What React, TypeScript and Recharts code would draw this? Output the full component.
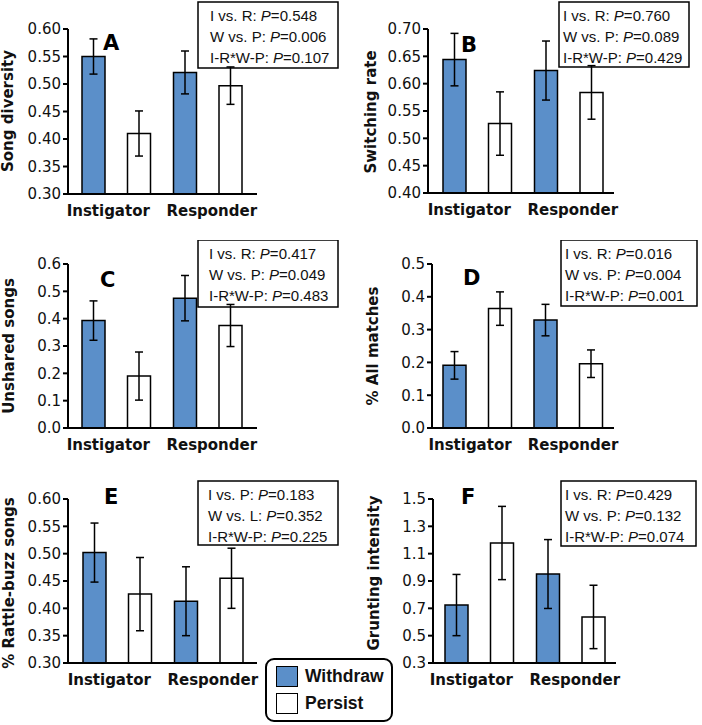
import { Bar, BarChart, ErrorBar, Legend, XAxis, YAxis } from 'recharts';

const groups = ['Instigator', 'Responder'];

// A – song diversity
const diversityWithdraw = [0.55, 0.521];
const diversityWithdrawErr = [0.032, 0.039];
const diversityPersist = [0.41, 0.497];
const diversityPersistErr = [0.041, 0.034];

// B – switching rate
const switchingWithdraw = [0.644, 0.624];
const switchingWithdrawErr = [0.048, 0.054];
const switchingPersist = [0.527, 0.584];
const switchingPersistErr = [0.058, 0.049];

// C – unshared songs
const unsharedWithdraw = [0.393, 0.475];
const unsharedWithdrawErr = [0.072, 0.083];
const unsharedPersist = [0.19, 0.375];
const unsharedPersistErr = [0.088, 0.077];

// D – % all matches
const matchesWithdraw = [0.191, 0.329];
const matchesWithdrawErr = [0.042, 0.048];
const matchesPersist = [0.364, 0.196];
const matchesPersistErr = [0.051, 0.042];

// E – % rattle-buzz songs
const rattleWithdraw = [0.502, 0.413];
const rattleWithdrawErr = [0.054, 0.063];
const rattlePersist = [0.426, 0.455];
const rattlePersistErr = [0.067, 0.055];

// F – grunting intensity
const gruntWithdraw = [0.724, 0.951];
const gruntWithdrawErr = [0.224, 0.252];
const gruntPersist = [1.178, 0.637];
const gruntPersistErr = [0.268, 0.232];

const ticks2 = [0.3, 0.35, 0.4, 0.45, 0.5, 0.55, 0.6];
const ticksB = [0.4, 0.45, 0.5, 0.55, 0.6, 0.65, 0.7];
const ticksC = [0, 0.1, 0.2, 0.3, 0.4, 0.5, 0.6];
const ticksD = [0, 0.1, 0.2, 0.3, 0.4, 0.5];
const ticksF = [0.3, 0.5, 0.7, 0.9, 1.1, 1.3, 1.5];

const statsA = [['I vs. R: ', '0.548'], ['W vs. P: ', '0.006'], ['I-R*W-P: ', '0.107']];
const statsB = [['I vs. R: ', '0.760'], ['W vs. P: ', '0.089'], ['I-R*W-P: ', '0.429']];
const statsC = [['I vs. R: ', '0.417'], ['W vs. P: ', '0.049'], ['I-R*W-P: ', '0.483']];
const statsD = [['I vs. R: ', '0.016'], ['W vs. P: ', '0.004'], ['I-R*W-P: ', '0.001']];
const statsE = [['I vs. P: ', '0.183'], ['W vs. L: ', '0.352'], ['I-R*W-P: ', '0.225']];
const statsF = [['I vs. R: ', '0.429'], ['W vs. P: ', '0.132'], ['I-R*W-P: ', '0.074']];

const BLUE = '#5b8fc9';
const SANS = '"DejaVu Sans", sans-serif';
const ARIAL = '"Liberation Sans", Arial, sans-serif';

function rows(w: number[], we: number[], p: number[], pe: number[]) {
  return groups.map((g, i) => ({
    group: g,
    withdraw: w[i],
    withdrawErr: we[i],
    persist: p[i],
    persistErr: pe[i],
  }));
}

function CategoryTick(props: any) {
  const { x, y, payload, index } = props;
  const dx = index === 0 ? -7.5 : 4.5;
  return (
    <text
      x={x + dx}
      y={y}
      dy="0.71em"
      textAnchor="middle"
      fontFamily={SANS}
      fontWeight="bold"
      fontSize={15}
      fill="#111"
    >
      {payload.value}
    </text>
  );
}

function LegendBox() {
  const item = (fill: string, label: string, top: number) => (
    <div style={{ position: 'absolute', left: 9, top, display: 'flex', alignItems: 'center' }}>
      <div style={{ width: 20, height: 19, background: fill, border: '1.5px solid #000' }} />
      <span style={{ marginLeft: 7, fontFamily: ARIAL, fontWeight: 'bold', fontSize: 17.5, color: '#111' }}>
        {label}
      </span>
    </div>
  );
  return (
    <div
      style={{
        position: 'relative',
        width: 124,
        height: 60,
        border: '2px solid #000',
        borderRadius: 9,
        background: '#fff',
      }}
    >
      {item(BLUE, 'Withdraw', 6)}
      {item('#fff', 'Persist', 33)}
    </div>
  );
}

interface PanelProps {
  left: number;
  top: number;
  height: number;
  plot: { left: number; right: number; top: number; bottom: number };
  pad: { left: number; right: number };
  domain: [number, number];
  ticks: number[];
  decimals: number;
  yLabel: string;
  yLabelX: number;
  yLabelY: number;
  letter: string;
  letterX: number;
  letterY: number;
  box: { x: number; y: number; w: number; h: number; tx: number };
  stats: string[][];
  data: any[];
  legend?: boolean;
}

function Panel(p: PanelProps) {
  const width = 351;
  return (
    <div style={{ position: 'absolute', left: p.left, top: p.top }}>
      <BarChart
        width={width}
        height={p.height}
        data={p.data}
        margin={{ top: p.plot.top, right: width - p.plot.right, bottom: 0, left: 0 }}
        barSize={23}
        barGap={22.5}
      >
        <XAxis
          dataKey="group"
          height={p.height - p.plot.bottom}
          padding={p.pad}
          axisLine={{ stroke: '#000', strokeWidth: 2 }}
          tickLine={false}
          tickSize={0}
          tickMargin={11}
          tick={<CategoryTick />}
          interval={0}
        />
        <YAxis
          type="number"
          width={p.plot.left}
          domain={p.domain}
          ticks={p.ticks}
          interval={0}
          tickFormatter={(v: number) => v.toFixed(p.decimals)}
          axisLine={{ stroke: '#000', strokeWidth: 2 }}
          tickLine={{ stroke: '#000', strokeWidth: 2 }}
          tickSize={5}
          tickMargin={2}
          tick={{ fontFamily: SANS, fontSize: 15, fill: '#111' }}
        />
        <Bar dataKey="withdraw" name="Withdraw" fill={BLUE} stroke="#000" strokeWidth={1.5} isAnimationActive={false}>
          <ErrorBar dataKey="withdrawErr" width={4} stroke="#000" strokeWidth={1.5} />
        </Bar>
        <Bar dataKey="persist" name="Persist" fill="#fff" stroke="#000" strokeWidth={1.5} isAnimationActive={false}>
          <ErrorBar dataKey="persistErr" width={4} stroke="#000" strokeWidth={1.5} />
        </Bar>
        {p.legend && (
          <Legend
            layout="horizontal"
            verticalAlign="middle"
            align="center"
            content={() => <LegendBox />}
            wrapperStyle={{ position: 'absolute', left: 265, top: 178, width: 130, height: 64 }}
          />
        )}
        <text
          transform={`translate(${p.yLabelX},${p.yLabelY}) rotate(-90)`}
          textAnchor="middle"
          fontFamily={SANS}
          fontWeight="bold"
          fontSize={15}
          fill="#111"
        >
          {p.yLabel}
        </text>
        <text x={p.letterX} y={p.letterY} fontFamily={SANS} fontWeight="bold" fontSize={21} fill="#000">
          {p.letter}
        </text>
        <g>
          <rect x={p.box.x} y={p.box.y} width={p.box.w} height={p.box.h} fill="#fff" stroke="#000" strokeWidth={1.5} />
          {p.stats.map((s, i) => (
            <text
              key={i}
              x={p.box.tx}
              y={p.box.y + 19 + i * 21}
              fontFamily={ARIAL}
              fontSize={15}
              fill="#111"
            >
              {s[0]}
              <tspan fontStyle="italic">P</tspan>={s[1]}
            </text>
          ))}
        </g>
      </BarChart>
    </div>
  );
}

export default function App() {
  return (
    <div style={{ position: 'absolute', left: 0, top: 0, width: 702, height: 725, background: '#fff' }}>
      <Panel
        left={0}
        top={0}
        height={240}
        plot={{ left: 68, right: 257, top: 29, bottom: 194 }}
        pad={{ left: 2, right: 4 }}
        domain={[0.3, 0.6]}
        ticks={ticks2}
        decimals={2}
        yLabel="Song diversity"
        yLabelX={13}
        yLabelY={111}
        letter="A"
        letterX={103}
        letterY={50}
        box={{ x: 198, y: 2, w: 140, h: 66, tx: 210 }}
        stats={statsA}
        data={rows(diversityWithdraw, diversityWithdrawErr, diversityPersist, diversityPersistErr)}
      />
      <Panel
        left={351}
        top={0}
        height={240}
        plot={{ left: 77, right: 263, top: 29, bottom: 193 }}
        pad={{ left: 3, right: 0 }}
        domain={[0.4, 0.7]}
        ticks={ticksB}
        decimals={2}
        yLabel="Switching rate"
        yLabelX={25}
        yLabelY={112}
        letter="B"
        letterX={110}
        letterY={52}
        box={{ x: 208, y: 2, w: 130, h: 65, tx: 212 }}
        stats={statsB}
        data={rows(switchingWithdraw, switchingWithdrawErr, switchingPersist, switchingPersistErr)}
      />
      <Panel
        left={0}
        top={240}
        height={240}
        plot={{ left: 68, right: 257, top: 24, bottom: 188 }}
        pad={{ left: 2, right: 4 }}
        domain={[0, 0.6]}
        ticks={ticksC}
        decimals={1}
        yLabel="Unshared songs"
        yLabelX={14}
        yLabelY={106}
        letter="C"
        letterX={100}
        letterY={47}
        box={{ x: 198, y: 0, w: 140, h: 67, tx: 209 }}
        stats={statsC}
        data={rows(unsharedWithdraw, unsharedWithdrawErr, unsharedPersist, unsharedPersistErr)}
      />
      <Panel
        left={351}
        top={240}
        height={240}
        plot={{ left: 81, right: 263, top: 24, bottom: 188 }}
        pad={{ left: 0, right: 0 }}
        domain={[0, 0.5]}
        ticks={ticksD}
        decimals={1}
        yLabel="% All matches"
        yLabelX={27}
        yLabelY={106}
        letter="D"
        letterX={112}
        letterY={45}
        box={{ x: 210, y: 0, w: 136, h: 66, tx: 214 }}
        stats={statsD}
        data={rows(matchesWithdraw, matchesWithdrawErr, matchesPersist, matchesPersistErr)}
      />
      <Panel
        left={0}
        top={480}
        height={245}
        plot={{ left: 68, right: 257, top: 19, bottom: 183 }}
        pad={{ left: 3, right: 3 }}
        domain={[0.3, 0.6]}
        ticks={ticks2}
        decimals={2}
        yLabel="% Rattle-buzz songs"
        yLabelX={14}
        yLabelY={103}
        letter="E"
        letterX={104}
        letterY={24}
        box={{ x: 198, y: 1, w: 140, h: 64, tx: 208 }}
        stats={statsE}
        data={rows(rattleWithdraw, rattleWithdrawErr, rattlePersist, rattlePersistErr)}
        legend
      />
      <Panel
        left={351}
        top={480}
        height={245}
        plot={{ left: 82, right: 265, top: 19, bottom: 183 }}
        pad={{ left: 0, right: 0 }}
        domain={[0.3, 1.5]}
        ticks={ticksF}
        decimals={1}
        yLabel="Grunting intensity"
        yLabelX={28}
        yLabelY={93}
        letter="F"
        letterX={110}
        letterY={24}
        box={{ x: 210, y: 1, w: 135, h: 65, tx: 214 }}
        stats={statsF}
        data={rows(gruntWithdraw, gruntWithdrawErr, gruntPersist, gruntPersistErr)}
      />
    </div>
  );
}
